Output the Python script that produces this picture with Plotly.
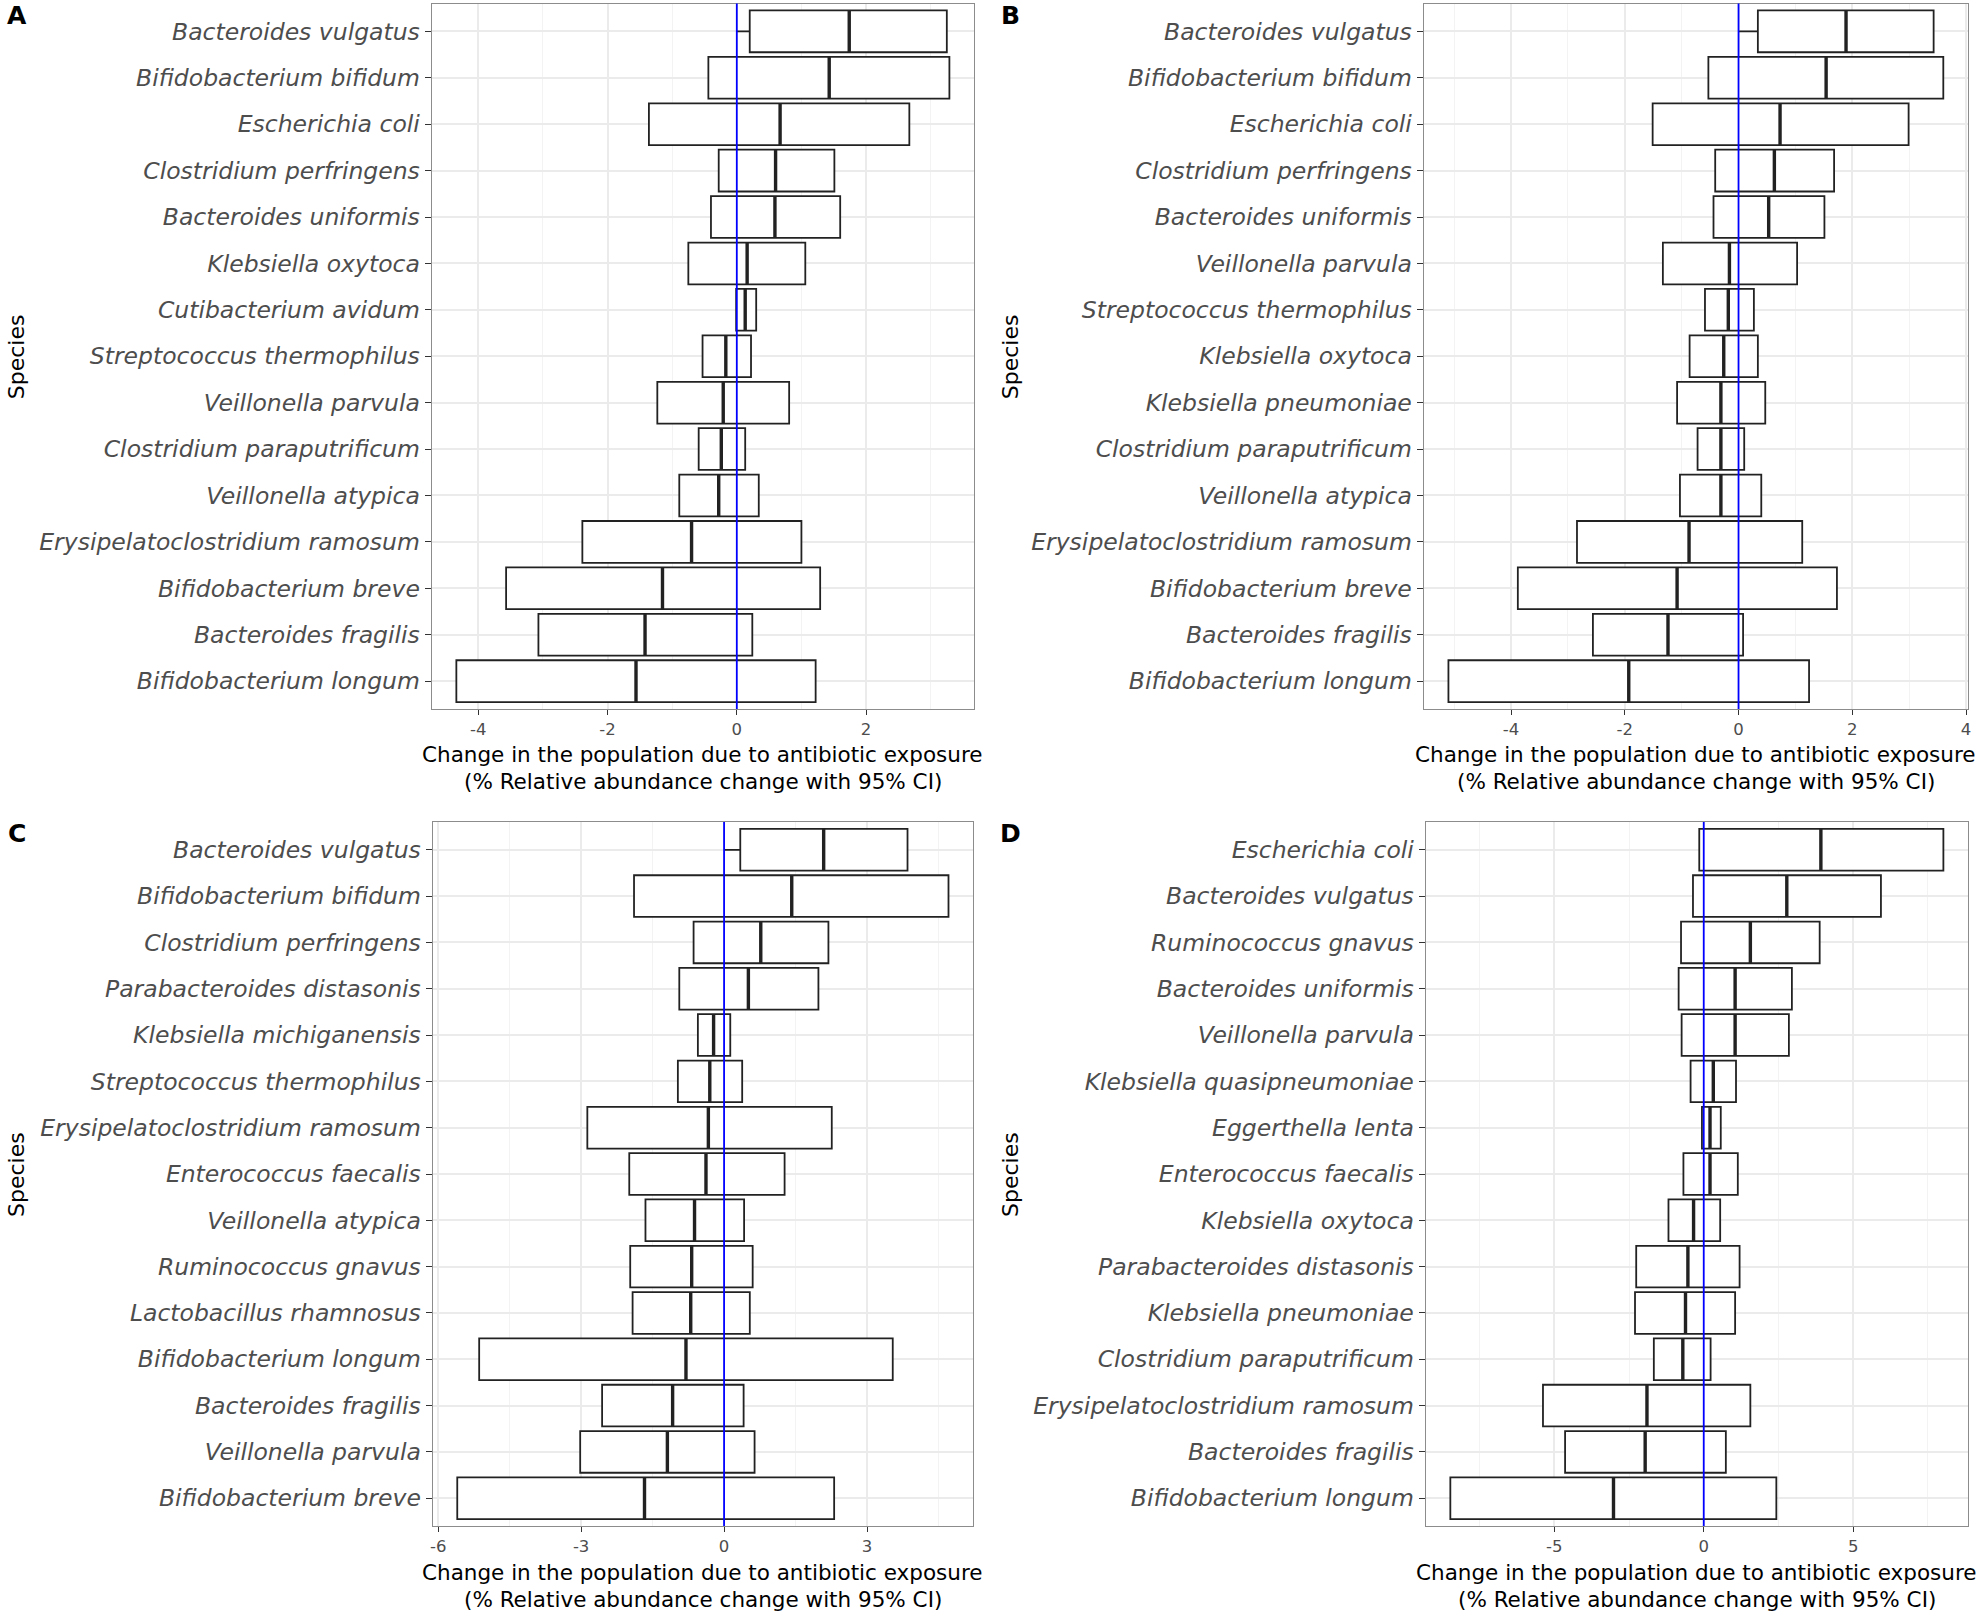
import plotly.graph_objects as go

FONT = 'DejaVu Sans'
BOX_COLOR = '#222222'
TEXT_GRAY = '#4d4d4d'
BORDER = '#8c8c8c'

# panel A
a_species = ['Bacteroides vulgatus', 'Bifidobacterium bifidum', 'Escherichia coli',
             'Clostridium perfringens', 'Bacteroides uniformis', 'Klebsiella oxytoca',
             'Cutibacterium avidum', 'Streptococcus thermophilus', 'Veillonella parvula',
             'Clostridium paraputrificum', 'Veillonella atypica',
             'Erysipelatoclostridium ramosum', 'Bifidobacterium breve',
             'Bacteroides fragilis', 'Bifidobacterium longum']
a_lower = [0.20, -0.44, -1.36, -0.28, -0.40, -0.75, -0.01, -0.53, -1.23, -0.59, -0.89, -2.39, -3.57, -3.07, -4.34]
a_est = [1.74, 1.43, 0.67, 0.60, 0.59, 0.16, 0.13, -0.17, -0.21, -0.24, -0.28, -0.70, -1.15, -1.42, -1.56]
a_upper = [3.25, 3.29, 2.67, 1.51, 1.60, 1.06, 0.30, 0.22, 0.81, 0.13, 0.34, 1.00, 1.29, 0.24, 1.22]
a_ticks = [-4, -2, 0, 2]

# panel B
b_species = ['Bacteroides vulgatus', 'Bifidobacterium bifidum', 'Escherichia coli',
             'Clostridium perfringens', 'Bacteroides uniformis', 'Veillonella parvula',
             'Streptococcus thermophilus', 'Klebsiella oxytoca', 'Klebsiella pneumoniae',
             'Clostridium paraputrificum', 'Veillonella atypica',
             'Erysipelatoclostridium ramosum', 'Bifidobacterium breve',
             'Bacteroides fragilis', 'Bifidobacterium longum']
b_lower = [0.34, -0.53, -1.51, -0.41, -0.44, -1.33, -0.59, -0.86, -1.08, -0.72, -1.03, -2.84, -3.88, -2.56, -5.10]
b_est = [1.89, 1.54, 0.73, 0.63, 0.53, -0.16, -0.18, -0.26, -0.31, -0.31, -0.31, -0.87, -1.08, -1.24, -1.93]
b_upper = [3.43, 3.60, 2.99, 1.68, 1.51, 1.03, 0.27, 0.34, 0.47, 0.10, 0.40, 1.12, 1.73, 0.08, 1.24]
b_ticks = [-4, -2, 0, 2, 4]

# panel C
c_species = ['Bacteroides vulgatus', 'Bifidobacterium bifidum', 'Clostridium perfringens',
             'Parabacteroides distasonis', 'Klebsiella michiganensis',
             'Streptococcus thermophilus', 'Erysipelatoclostridium ramosum',
             'Enterococcus faecalis', 'Veillonella atypica', 'Ruminococcus gnavus',
             'Lactobacillus rhamnosus', 'Bifidobacterium longum', 'Bacteroides fragilis',
             'Veillonella parvula', 'Bifidobacterium breve']
c_lower = [0.34, -1.89, -0.64, -0.94, -0.55, -0.97, -2.87, -1.99, -1.65, -1.97, -1.92, -5.14, -2.56, -3.02, -5.60]
c_est = [2.09, 1.42, 0.77, 0.51, -0.22, -0.30, -0.33, -0.38, -0.62, -0.68, -0.70, -0.80, -1.08, -1.19, -1.67]
c_upper = [3.85, 4.71, 2.19, 1.98, 0.13, 0.38, 2.26, 1.27, 0.42, 0.60, 0.54, 3.54, 0.41, 0.64, 2.31]
c_ticks = [-6, -3, 0, 3]

# panel D
d_species = ['Escherichia coli', 'Bacteroides vulgatus', 'Ruminococcus gnavus',
             'Bacteroides uniformis', 'Veillonella parvula', 'Klebsiella quasipneumoniae',
             'Eggerthella lenta', 'Enterococcus faecalis', 'Klebsiella oxytoca',
             'Parabacteroides distasonis', 'Klebsiella pneumoniae',
             'Clostridium paraputrificum', 'Erysipelatoclostridium ramosum',
             'Bacteroides fragilis', 'Bifidobacterium longum']
d_lower = [-0.15, -0.36, -0.76, -0.84, -0.74, -0.44, -0.06, -0.68, -1.18, -2.26, -2.30, -1.67, -5.38, -4.64, -8.48]
d_est = [3.92, 2.78, 1.56, 1.05, 1.05, 0.32, 0.21, 0.21, -0.34, -0.53, -0.61, -0.70, -1.90, -1.96, -3.02]
d_upper = [8.02, 5.93, 3.88, 2.95, 2.85, 1.08, 0.57, 1.14, 0.55, 1.20, 1.05, 0.23, 1.56, 0.74, 2.43]
d_ticks = [-5, 0, 5]

x_title_1 = 'Change in the population due to antibiotic exposure'
x_title_2 = '(% Relative abundance change with 95% CI)'

W, H = 1985, 1615
TOP = [1 - 709 / H, 1 - 3.5 / H]
BOTTOM = [1 - 1526 / H, 1 - 822 / H]

panels = [
    dict(letter='A', species=a_species, lower=a_lower, est=a_est, upper=a_upper,
         ticks=a_ticks, stub=True, xdom=[430 / W, 974 / W], ydom=TOP),
    dict(letter='B', species=b_species, lower=b_lower, est=b_est, upper=b_upper,
         ticks=b_ticks, stub=True, xdom=[1425 / W, 1971 / W], ydom=TOP),
    dict(letter='C', species=c_species, lower=c_lower, est=c_est, upper=c_upper,
         ticks=c_ticks, stub=True, xdom=[431 / W, 973 / W], ydom=BOTTOM),
    dict(letter='D', species=d_species, lower=d_lower, est=d_est, upper=d_upper,
         ticks=d_ticks, stub=False, xdom=[1427 / W, 1971 / W], ydom=BOTTOM),
]

fig = go.Figure()
annotations = []
layout_axes = {}

for i, p in enumerate(panels):
    n = str(i + 1) if i else ''
    xa, ya = 'x' + n, 'y' + n
    pos = list(range(len(p['species'])))

    # crossbar boxes: lower -> upper CI
    fig.add_bar(
        y=pos,
        x=[u - l for l, u in zip(p['lower'], p['upper'])],
        base=p['lower'],
        orientation='h',
        width=0.9,
        marker=dict(color='white', line=dict(color=BOX_COLOR, width=1.8)),
        xaxis=xa, yaxis=ya, showlegend=False, hoverinfo='skip',
    )

    # estimate line inside each box
    mx, my = [], []
    for k, m in zip(pos, p['est']):
        mx += [m, m, None]
        my += [k - 0.45, k + 0.45, None]
    fig.add_scatter(x=mx, y=my, mode='lines', line=dict(color=BOX_COLOR, width=3.4),
                    xaxis=xa, yaxis=ya, showlegend=False, hoverinfo='skip')

    if p['stub']:
        fig.add_scatter(x=[0, p['lower'][0]], y=[pos[0], pos[0]], mode='lines',
                        line=dict(color=BOX_COLOR, width=1.8),
                        xaxis=xa, yaxis=ya, showlegend=False, hoverinfo='skip')

    fig.add_shape(type='line', xref=xa, yref=ya + ' domain', x0=0, x1=0, y0=0, y1=1,
                  line=dict(color='#0000ff', width=1.8), layer='above')

    lo, hi = min(p['lower']), max(p['upper'])
    pad = 0.05 * (hi - lo)
    ticks = p['ticks']
    step = ticks[1] - ticks[0]
    minor_vals = [t - step / 2 for t in ticks] + [ticks[-1] + step / 2]

    layout_axes['xaxis' + n] = dict(
        domain=p['xdom'], anchor=ya, range=[lo - pad, hi + pad],
        tickmode='array', tickvals=ticks, ticktext=[str(t) for t in ticks],
        ticks='outside', ticklen=5, tickwidth=1.3, tickcolor='#333333',
        tickfont=dict(family=FONT, size=16.5, color=TEXT_GRAY),
        showgrid=True, gridcolor='#ebebeb', gridwidth=2,
        minor=dict(tickmode='array', tickvals=minor_vals, showgrid=True,
                   gridcolor='#f3f3f3', gridwidth=1, ticks=''),
        zeroline=False, showline=True, mirror=True, linecolor=BORDER, linewidth=1.3,
    )
    layout_axes['yaxis' + n] = dict(
        domain=p['ydom'], anchor=xa, range=[len(pos) - 0.4, -0.6],
        tickmode='array', tickvals=pos, ticktext=p['species'],
        ticks='outside', ticklen=6, tickwidth=1.3, tickcolor='#333333',
        tickfont=dict(family=FONT, size=23.5, color=TEXT_GRAY, style='italic'),
        showgrid=True, gridcolor='#ebebeb', gridwidth=2,
        zeroline=False, showline=True, mirror=True, linecolor=BORDER, linewidth=1.3,
    )

    xc = (p['xdom'][0] + p['xdom'][1]) / 2
    yc = (p['ydom'][0] + p['ydom'][1]) / 2
    left = 14 / W if p['xdom'][0] < 0.5 else 1011 / W
    top_px = 16 if p['ydom'] is TOP else 833
    line1_px = 754.5 if p['ydom'] is TOP else 1572
    annotations += [
        dict(text='<b>{}</b>'.format(p['letter']), x=left, y=1 - top_px / H,
             xref='paper', yref='paper', showarrow=False, xanchor='center', yanchor='middle',
             font=dict(family=FONT, size=25, color='black')),
        dict(text='Species', x=left - 1 / W, y=yc, textangle=-90,
             xref='paper', yref='paper', showarrow=False, xanchor='center', yanchor='middle',
             font=dict(family=FONT, size=22, color='black')),
        dict(text=x_title_1, x=xc, y=1 - line1_px / H,
             xref='paper', yref='paper', showarrow=False, xanchor='center', yanchor='middle',
             font=dict(family=FONT, size=21.5, color='black')),
        dict(text=x_title_2, x=xc, y=1 - (line1_px + 27.5) / H,
             xref='paper', yref='paper', showarrow=False, xanchor='center', yanchor='middle',
             font=dict(family=FONT, size=21.5, color='black')),
    ]

fig.update_layout(
    width=W, height=H,
    margin=dict(l=0, r=0, t=0, b=0),
    plot_bgcolor='white', paper_bgcolor='white',
    annotations=annotations,
    **layout_axes,
)

fig.write_html('out.html', config={'displayModeBar': False},
               post_script="document.body.style.margin = '0';")
